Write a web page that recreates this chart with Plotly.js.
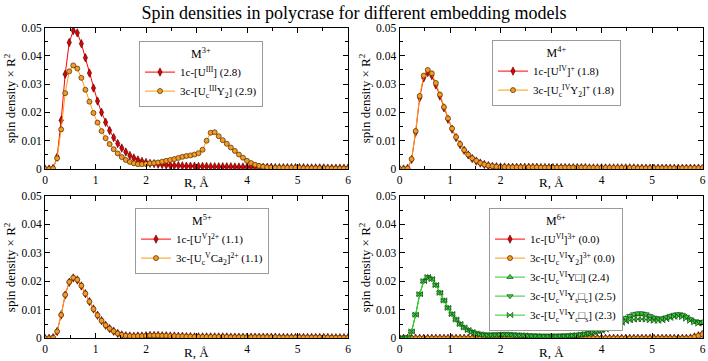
<!DOCTYPE html>
<html>
<head>
<meta charset="utf-8">
<script src="https://cdn.plot.ly/plotly-3.0.1.min.js"></script>
<style>
  html, body { margin: 0; padding: 0; background: #fff; }
  #chart { width: 708px; height: 361px; }
</style>
</head>
<body>
<div id="chart"></div>
<script>
// Radial grid (Å), 0 to 6 in steps of 0.08
const R = Array.from({ length: 76 }, (_, i) => +(i * 0.08).toFixed(2));

// ---- M3+ panel ----
const m3_1c = [
  0, 0, 0.0002, 0.0042, 0.0172, 0.0335, 0.0447, 0.0489, 0.0481, 0.0443,
  0.0393, 0.0339, 0.0286, 0.0240, 0.0200, 0.0165, 0.0136, 0.0111, 0.0090, 0.0074,
  0.0060, 0.0048, 0.0039, 0.0032, 0.0027, 0.0023, 0.0020, 0.0019, 0.0017, 0.0016,
  0.0014, 0.0013, 0.0012, 0.0012, 0.0011, 0.0010, 0.0010, 0.0010, 0.0009, 0.0009,
  0.0009, 0.0008, 0.0008, 0.0008, 0.0008, 0.0008, 0.0008, 0.0007, 0.0007, 0.0007,
  0.0007, 0.0007, 0.0007, 0.0006, 0.0006, 0.0006, 0.0006, 0.0005, 0.0005, 0.0005,
  0.0005, 0.0005, 0.0005, 0.0005, 0.0005, 0.0004, 0.0004, 0.0004, 0.0004, 0.0004,
  0.0003, 0.0003, 0.0003, 0.0003, 0.0003, 0.0003
];
const m3_3c = [
  0, 0, 0.0002, 0.0038, 0.0140, 0.0268, 0.0345, 0.0366, 0.0355, 0.0322,
  0.0280, 0.0238, 0.0198, 0.0164, 0.0134, 0.0109, 0.0088, 0.0070, 0.0055, 0.0042,
  0.0032, 0.0025, 0.0020, 0.0017, 0.0017, 0.0018, 0.0020, 0.0021, 0.0023, 0.0026,
  0.0029, 0.0032, 0.0035, 0.0039, 0.0043, 0.0046, 0.0048, 0.0051, 0.0056, 0.0068,
  0.0100, 0.0128, 0.0130, 0.0116, 0.0102, 0.0089, 0.0076, 0.0064, 0.0051, 0.0040,
  0.0029, 0.0021, 0.0015, 0.0011, 0.0008, 0.0006, 0.0005, 0.0004, 0.0004, 0.0004,
  0.0004, 0.0004, 0.0004, 0.0004, 0.0003, 0.0003, 0.0003, 0.0003, 0.0003, 0.0003,
  0.0003, 0.0002, 0.0002, 0.0002, 0.0002, 0.0002
];

// ---- M4+ panel ----
const m4_1c = [
  0, 0, 0.0002, 0.0034, 0.0130, 0.0252, 0.0322, 0.0341, 0.0330, 0.0297,
  0.0258, 0.0216, 0.0176, 0.0141, 0.0111, 0.0086, 0.0066, 0.0050, 0.0037, 0.0028,
  0.0021, 0.0016, 0.0012, 0.0009, 0.0008, 0.0007, 0.0007, 0.0006, 0.0006, 0.0006,
  0.0006, 0.0006, 0.0006, 0.0006, 0.0006, 0.0005, 0.0005, 0.0005, 0.0005, 0.0005,
  0.0005, 0.0005, 0.0005, 0.0005, 0.0005, 0.0005, 0.0005, 0.0004, 0.0004, 0.0004,
  0.0004, 0.0004, 0.0004, 0.0004, 0.0004, 0.0004, 0.0004, 0.0004, 0.0004, 0.0003,
  0.0003, 0.0003, 0.0003, 0.0003, 0.0003, 0.0003, 0.0003, 0.0003, 0.0003, 0.0003,
  0.0003, 0.0003, 0.0003, 0.0003, 0.0003, 0.0003
];
const m4_3c = [
  0, 0, 0.0002, 0.0035, 0.0134, 0.0258, 0.0330, 0.0350, 0.0338, 0.0304,
  0.0263, 0.0219, 0.0179, 0.0143, 0.0113, 0.0088, 0.0067, 0.0051, 0.0038, 0.0029,
  0.0021, 0.0016, 0.0012, 0.0010, 0.0008, 0.0007, 0.0007, 0.0006, 0.0006, 0.0006,
  0.0006, 0.0006, 0.0006, 0.0006, 0.0006, 0.0005, 0.0005, 0.0005, 0.0005, 0.0005,
  0.0005, 0.0005, 0.0005, 0.0005, 0.0005, 0.0005, 0.0005, 0.0004, 0.0004, 0.0004,
  0.0004, 0.0004, 0.0004, 0.0004, 0.0004, 0.0004, 0.0004, 0.0004, 0.0004, 0.0003,
  0.0003, 0.0003, 0.0003, 0.0003, 0.0003, 0.0003, 0.0003, 0.0003, 0.0003, 0.0003,
  0.0003, 0.0003, 0.0003, 0.0003, 0.0003, 0.0003
];

// ---- M5+ panel ----
const m5_1c = [
  0, 0, 0.0002, 0.0024, 0.0082, 0.0152, 0.0197, 0.0212, 0.0205, 0.0184,
  0.0157, 0.0129, 0.0103, 0.0081, 0.0062, 0.0046, 0.0034, 0.0025, 0.0017, 0.0012,
  0.0009, 0.0008, 0.0007, 0.0008, 0.0008, 0.0009, 0.0010, 0.0010, 0.0010, 0.0009,
  0.0009, 0.0008, 0.0008, 0.0007, 0.0007, 0.0006, 0.0006, 0.0005, 0.0005, 0.0005,
  0.0005, 0.0005, 0.0005, 0.0005, 0.0005, 0.0005, 0.0004, 0.0004, 0.0004, 0.0004,
  0.0004, 0.0004, 0.0004, 0.0004, 0.0004, 0.0004, 0.0004, 0.0004, 0.0003, 0.0003,
  0.0003, 0.0003, 0.0003, 0.0003, 0.0003, 0.0003, 0.0003, 0.0003, 0.0003, 0.0003,
  0.0003, 0.0002, 0.0002, 0.0002, 0.0002, 0.0002
];
const m5_3c = [
  0, 0, 0.0002, 0.0024, 0.0082, 0.0153, 0.0198, 0.0213, 0.0206, 0.0185,
  0.0157, 0.0129, 0.0103, 0.0081, 0.0062, 0.0046, 0.0034, 0.0025, 0.0017, 0.0012,
  0.0009, 0.0008, 0.0007, 0.0008, 0.0008, 0.0009, 0.0010, 0.0010, 0.0010, 0.0009,
  0.0009, 0.0008, 0.0008, 0.0007, 0.0007, 0.0006, 0.0006, 0.0005, 0.0005, 0.0005,
  0.0005, 0.0005, 0.0005, 0.0005, 0.0005, 0.0005, 0.0004, 0.0004, 0.0004, 0.0004,
  0.0004, 0.0004, 0.0004, 0.0004, 0.0004, 0.0004, 0.0004, 0.0004, 0.0003, 0.0003,
  0.0003, 0.0003, 0.0003, 0.0003, 0.0003, 0.0003, 0.0003, 0.0003, 0.0003, 0.0003,
  0.0003, 0.0002, 0.0002, 0.0002, 0.0002, 0.0002
];

// ---- M6+ panel ----
const m6_1c = [
  0, 0, 0, 0, 0, 0, 0, 0, 0, 0,
  0, 0, 0, 0, 0, 0, 0, 0, 0, 0,
  0, 0, 0, 0, 0, 0, 0, 0, 0, 0,
  0, 0, 0, 0, 0, 0, 0, 0, 0, 0,
  0, 0, 0, 0, 0, 0, 0, 0, 0, 0,
  0, 0, 0, 0, 0, 0, 0, 0, 0, 0,
  0, 0, 0, 0, 0, 0, 0, 0, 0, 0,
  0, 0, 0.0001, 0.0005, 0.0009, 0.0015
];
const m6_3cY2 = [
  0, 0, 0, 0, 0, 0, 0, 0, 0, 0,
  0, 0, 0, 0, 0, 0, 0, 0, 0, 0,
  0, 0, 0, 0, 0, 0, 0, 0, 0, 0,
  0, 0, 0, 0, 0, 0, 0, 0, 0, 0,
  0, 0, 0, 0, 0, 0, 0, 0, 0, 0,
  0, 0, 0, 0, 0, 0, 0, 0, 0, 0,
  0, 0, 0, 0, 0, 0, 0, 0, 0, 0,
  0, 0, 0.0001, 0.0005, 0.0009, 0.0014
];
const m6_3cYv = [
  0, 0, 0.0002, 0.0024, 0.0083, 0.0155, 0.0201, 0.0215, 0.0208, 0.0187,
  0.0160, 0.0133, 0.0107, 0.0085, 0.0066, 0.0050, 0.0038, 0.0029, 0.0022, 0.0017,
  0.0014, 0.0012, 0.0011, 0.0012, 0.0012, 0.0013, 0.0013, 0.0013, 0.0012, 0.0011,
  0.0010, 0.0010, 0.0009, 0.0008, 0.0008, 0.0007, 0.0007, 0.0007, 0.0007, 0.0007,
  0.0008, 0.0008, 0.0009, 0.0010, 0.0011, 0.0013, 0.0015, 0.0018, 0.0021, 0.0025,
  0.0028, 0.0033, 0.0040, 0.0047, 0.0054, 0.0062, 0.0070, 0.0077, 0.0082, 0.0085,
  0.0085, 0.0082, 0.0077, 0.0071, 0.0068, 0.0068, 0.0072, 0.0077, 0.0081, 0.0083,
  0.0081, 0.0075, 0.0066, 0.0059, 0.0056, 0.0057
];
const m6_3cYsVc = [
  0, 0, 0.0002, 0.0024, 0.0083, 0.0155, 0.0201, 0.0215, 0.0208, 0.0187,
  0.0160, 0.0133, 0.0107, 0.0085, 0.0066, 0.0050, 0.0038, 0.0029, 0.0022, 0.0017,
  0.0014, 0.0012, 0.0011, 0.0012, 0.0012, 0.0013, 0.0013, 0.0013, 0.0012, 0.0011,
  0.0010, 0.0010, 0.0009, 0.0008, 0.0008, 0.0007, 0.0007, 0.0007, 0.0007, 0.0007,
  0.0008, 0.0008, 0.0009, 0.0010, 0.0011, 0.0013, 0.0015, 0.0018, 0.0021, 0.0025,
  0.0029, 0.0034, 0.0041, 0.0048, 0.0056, 0.0064, 0.0072, 0.0079, 0.0085, 0.0088,
  0.0088, 0.0085, 0.0079, 0.0073, 0.0070, 0.0070, 0.0074, 0.0079, 0.0083, 0.0085,
  0.0083, 0.0076, 0.0067, 0.0060, 0.0057, 0.0058
];
const m6_3cYcVs = [
  0, 0, 0.0002, 0.0024, 0.0083, 0.0155, 0.0201, 0.0215, 0.0208, 0.0187,
  0.0160, 0.0133, 0.0107, 0.0085, 0.0066, 0.0050, 0.0038, 0.0029, 0.0022, 0.0017,
  0.0014, 0.0012, 0.0011, 0.0012, 0.0012, 0.0013, 0.0013, 0.0013, 0.0012, 0.0011,
  0.0010, 0.0010, 0.0009, 0.0008, 0.0008, 0.0007, 0.0007, 0.0007, 0.0007, 0.0007,
  0.0008, 0.0008, 0.0009, 0.0010, 0.0011, 0.0013, 0.0015, 0.0018, 0.0021, 0.0025,
  0.0027, 0.0031, 0.0037, 0.0043, 0.0049, 0.0055, 0.0060, 0.0063, 0.0066, 0.0067,
  0.0067, 0.0066, 0.0064, 0.0062, 0.0062, 0.0063, 0.0067, 0.0072, 0.0076, 0.0077,
  0.0075, 0.0069, 0.0062, 0.0056, 0.0052, 0.0053
];

// Legend labels
const labels3 = ['1c-[U<sup>III</sup>] (2.8)', '3c-[U<sub>c</sub><sup>III</sup>Y<sub>2</sub>] (2.9)'];
const labels4 = ['1c-[U<sup>IV</sup>]<sup>+</sup> (1.8)', '3c-[U<sub>c</sub><sup>IV</sup>Y<sub>2</sub>]<sup>+</sup> (1.8)'];
const labels5 = ['1c-[U<sup>V</sup>]<sup>2+</sup> (1.1)', '3c-[U<sub>c</sub><sup>V</sup>Ca<sub>2</sub>]<sup>2+</sup> (1.1)'];
const labels6 = [
  '1c-[U<sup>VI</sup>]<sup>3+</sup> (0.0)',
  '3c-[U<sub>c</sub><sup>VI</sup>Y<sub>2</sub>]<sup>3+</sup> (0.0)',
  '3c-[U<sub>c</sub><sup>VI</sup>Y□] (2.4)',
  '3c-[U<sub>c</sub><sup>VI</sup>Y<sub>s</sub>□<sub>c</sub>] (2.5)',
  '3c-[U<sub>c</sub><sup>VI</sup>Y<sub>c</sub>□<sub>s</sub>] (2.3)'
];
const panelTitles = ['M<sup>3+</sup>', 'M<sup>4+</sup>', 'M<sup>5+</sup>', 'M<sup>6+</sup>'];
const xTickVals = [0, 1, 2, 3, 4, 5, 6];
const xTickText = ['0', '1', '2', '', '4', '5', '6'];

const SERIF = 'Liberation Serif, Times New Roman, serif';

// Series styles
const RED = { line: { color: '#ff0000', width: 1 },
  marker: { symbol: 'diamond-tall', size: 6, color: '#e00000', line: { color: '#400000', width: 0.6 } } };
const ORANGE = { line: { color: '#ff9a1a', width: 1 },
  marker: { symbol: 'circle', size: 5, color: '#f59a22', line: { color: '#4a2a00', width: 0.7 } } };
const greenMarker = sym => ({ symbol: sym, size: 5.5, color: '#3ccf3c', line: { color: '#0b3a0b', width: 0.6 } });
const GREEN_LINE = { color: '#2ecc2e', width: 1 };

function series(y, name, style, ax, leg) {
  return {
    x: R, y: y, name: name, type: 'scatter', mode: 'lines+markers',
    xaxis: 'x' + ax, yaxis: 'y' + ax, legend: leg,
    line: style.line, marker: style.marker
  };
}

const traces = [
  series(m3_1c, labels3[0], RED, '', 'legend'),
  series(m3_3c, labels3[1], ORANGE, '', 'legend'),
  series(m4_1c, labels4[0], RED, '2', 'legend2'),
  series(m4_3c, labels4[1], ORANGE, '2', 'legend2'),
  series(m5_1c, labels5[0], RED, '3', 'legend3'),
  series(m5_3c, labels5[1], ORANGE, '3', 'legend3'),
  series(m6_1c, labels6[0], RED, '4', 'legend4'),
  series(m6_3cY2, labels6[1], ORANGE, '4', 'legend4'),
  series(m6_3cYv, labels6[2], { line: GREEN_LINE, marker: greenMarker('triangle-up') }, '4', 'legend4'),
  series(m6_3cYsVc, labels6[3], { line: GREEN_LINE, marker: greenMarker('triangle-down') }, '4', 'legend4'),
  series(m6_3cYcVs, labels6[4], { line: GREEN_LINE, marker: greenMarker('bowtie') }, '4', 'legend4')
];

// Plot-area geometry (fractions of the 708x361 page)
const W = 708, H = 361;
const xDomL = [45 / W, 348 / W];
const xDomR = [399.5 / W, 702.5 / W];
const yDomT = [(H - 169) / H, (H - 27.5) / H];
const yDomB = [(H - 338.3) / H, (H - 196) / H];

function xAxis(domain, anchor) {
  return {
    domain: domain, anchor: anchor, range: [0, 6],
    tickmode: 'array', tickvals: xTickVals, ticktext: xTickText,
    ticks: 'inside', ticklen: 5, tickwidth: 1, tickcolor: '#000',
    minor: { ticks: 'inside', tickmode: 'linear', tick0: 0, dtick: 0.5, ticklen: 3, tickwidth: 1, tickcolor: '#000', showgrid: false },
    showline: true, linecolor: '#000', linewidth: 1, mirror: 'ticks',
    showgrid: false, zeroline: false,
    tickfont: { family: SERIF, size: 11.5, color: '#000' }
  };
}
function yAxis(domain, anchor) {
  return {
    domain: domain, anchor: anchor, range: [0, 0.05], tick0: 0, dtick: 0.01,
    ticks: 'inside', ticklen: 5, tickwidth: 1, tickcolor: '#000',
    minor: { ticks: 'inside', dtick: 0.005, ticklen: 3, tickwidth: 1, tickcolor: '#000', showgrid: false },
    showline: true, linecolor: '#000', linewidth: 1, mirror: 'ticks',
    showgrid: false, zeroline: false,
    tickfont: { family: SERIF, size: 11.5, color: '#000' }
  };
}
function legendAt(xPx, yPx, title) {
  return {
    x: xPx / W, y: (H - yPx) / H, xanchor: 'left', yanchor: 'top',
    bgcolor: '#ffffff', bordercolor: '#9a9a9a', borderwidth: 1,
    font: { family: SERIF, size: 11, color: '#000' },
    title: { text: title, side: 'top center', font: { family: SERIF, size: 12, color: '#000' } },
    itemwidth: 30, tracegroupgap: 0
  };
}

const axisTitleFont = { family: SERIF, size: 13, color: '#000' };
const annotations = [];
[[xDomL, 182], [xDomR, 182], [xDomL, 352], [xDomR, 352]].forEach(([d, yPx]) => {
  annotations.push({
    text: 'R, Å', xref: 'paper', yref: 'paper', x: (d[0] + d[1]) / 2, y: (H - yPx) / H,
    xanchor: 'center', yanchor: 'middle', showarrow: false, font: axisTitleFont
  });
});
[[10, yDomT], [365, yDomT], [10, yDomB], [365, yDomB]].forEach(([xPx, d]) => {
  annotations.push({
    text: 'spin density × R<sup>2</sup>', xref: 'paper', yref: 'paper', x: xPx / W, y: (d[0] + d[1]) / 2,
    xanchor: 'center', yanchor: 'middle', textangle: -90, showarrow: false, font: axisTitleFont
  });
});

const layout = {
  width: W, height: H,
  margin: { l: 0, r: 0, t: 0, b: 0 },
  paper_bgcolor: '#fff', plot_bgcolor: '#fff',
  font: { family: SERIF, color: '#000' },
  title: {
    text: 'Spin densities in polycrase for different embedding models',
    font: { family: SERIF, size: 18, color: '#000' },
    x: 0.5, xanchor: 'center', y: 1 - 12.5 / H, yanchor: 'middle'
  },
  showlegend: true,
  xaxis: xAxis(xDomL, 'y'), yaxis: yAxis(yDomT, 'x'),
  xaxis2: xAxis(xDomR, 'y2'), yaxis2: yAxis(yDomT, 'x2'),
  xaxis3: xAxis(xDomL, 'y3'), yaxis3: yAxis(yDomB, 'x3'),
  xaxis4: xAxis(xDomR, 'y4'), yaxis4: yAxis(yDomB, 'x4'),
  legend: legendAt(139, 41, panelTitles[0]),
  legend2: legendAt(492, 40, panelTitles[1]),
  legend3: legendAt(135, 208, panelTitles[2]),
  legend4: legendAt(489, 208, panelTitles[3]),
  annotations: annotations
};

Plotly.newPlot('chart', traces, layout, { displayModeBar: false, staticPlot: true });
</script>
</body>
</html>
